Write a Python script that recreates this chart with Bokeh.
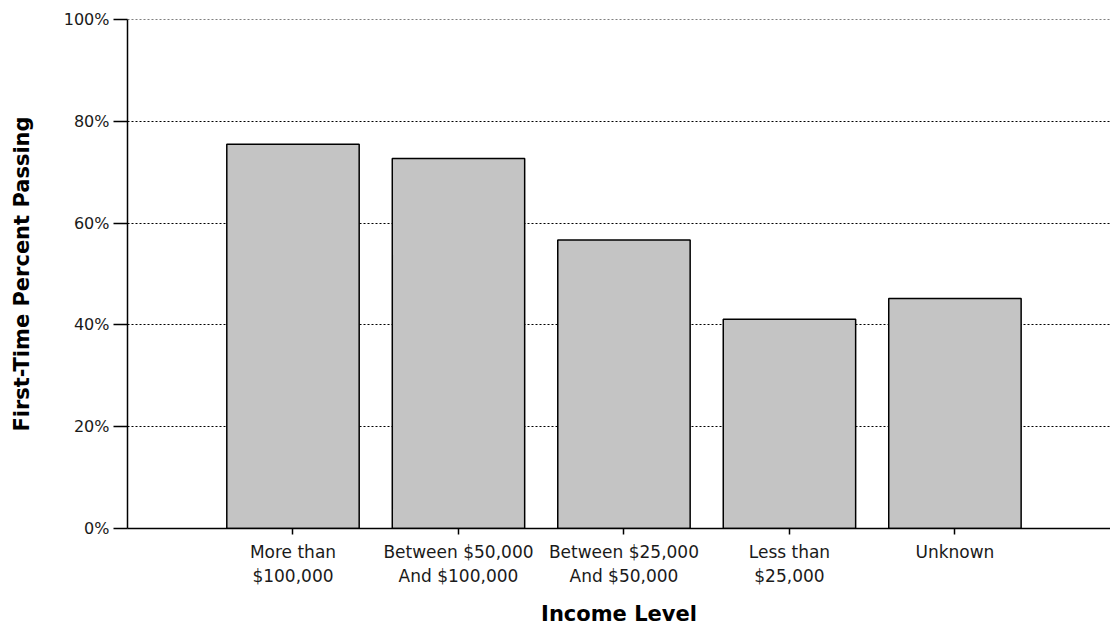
from bokeh.plotting import figure
from bokeh.models import Range1d, FixedTicker, ColumnDataSource, Span
from bokeh.embed import file_html
from bokeh.resources import INLINE

categories = ["More than\n$100,000", "Between $50,000\nAnd $100,000",
              "Between $25,000\nAnd $50,000", "Less than\n$25,000", "Unknown"]
values = [75.5, 72.7, 56.7, 41.1, 45.2]
y_ticks = [0, 20, 40, 60, 80, 100]
y_tick_labels = ["0%", "20%", "40%", "60%", "80%", "100%"]

xpos = [i + 1 for i in range(len(categories))]
src = ColumnDataSource(dict(x=xpos, top=values))

p = figure(width=1110, height=628, output_backend="svg", toolbar_location=None,
           x_range=Range1d(0, 5.94), y_range=Range1d(0, 100),
           min_border_left=127, min_border_right=0, min_border_top=19, min_border_bottom=100)
p.background_fill_color = "white"
p.border_fill_color = "white"
p.outline_line_color = None

p.vbar(x="x", top="top", width=0.8, bottom=0, source=src,
       fill_color="#c4c4c4", line_color="black", line_width=1.5)

FONT = "DejaVu Sans"

p.xaxis.ticker = FixedTicker(ticks=xpos)
p.xaxis.major_label_overrides = {x: c for x, c in zip(xpos, categories)}
p.xaxis.minor_tick_line_color = None
p.xaxis.major_tick_out = 6
p.xaxis.major_tick_in = 0
p.xaxis.major_tick_line_width = 1.5
p.xaxis.major_label_standoff = 7
p.xaxis.major_label_text_font = FONT
p.xaxis.major_label_text_font_size = "17px"
p.xaxis.major_label_text_color = "#1a1a1a"
p.xaxis.axis_line_color = "black"
p.xaxis.axis_line_width = 1.5
p.xaxis.axis_label = "Income Level"
p.xaxis.axis_label_text_font = FONT
p.xaxis.axis_label_text_font_style = "bold"
p.xaxis.axis_label_text_font_size = "21px"
p.xaxis.axis_label_text_color = "black"
p.xaxis.axis_label_standoff = 13

p.yaxis.ticker = FixedTicker(ticks=y_ticks)
p.yaxis.major_label_overrides = {t: l for t, l in zip(y_ticks, y_tick_labels)}
p.yaxis.minor_tick_line_color = None
p.yaxis.major_tick_out = 14
p.yaxis.major_tick_in = 0
p.yaxis.major_tick_line_width = 1.5
p.yaxis.major_label_standoff = 4
p.yaxis.major_label_text_font = FONT
p.yaxis.major_label_text_font_size = "16px"
p.yaxis.major_label_text_color = "#1a1a1a"
p.yaxis.axis_line_color = "black"
p.yaxis.axis_line_width = 1.5
p.yaxis.axis_label = "First-Time Percent Passing"
p.yaxis.axis_label_text_font = FONT
p.yaxis.axis_label_text_font_style = "bold"
p.yaxis.axis_label_text_font_size = "21px"
p.yaxis.axis_label_text_color = "black"
p.yaxis.axis_label_standoff = 27

p.xgrid.grid_line_color = None
p.ygrid.grid_line_color = "black"
p.ygrid.grid_line_dash = "2 2"
p.ygrid.grid_line_width = 1
p.ygrid.level = "underlay"

p.add_layout(Span(location=y_ticks[-1], dimension="width", line_color="black",
                  line_dash="2 2", line_width=1, level="underlay"))

open("out.html", "w").write(file_html(p, INLINE))
